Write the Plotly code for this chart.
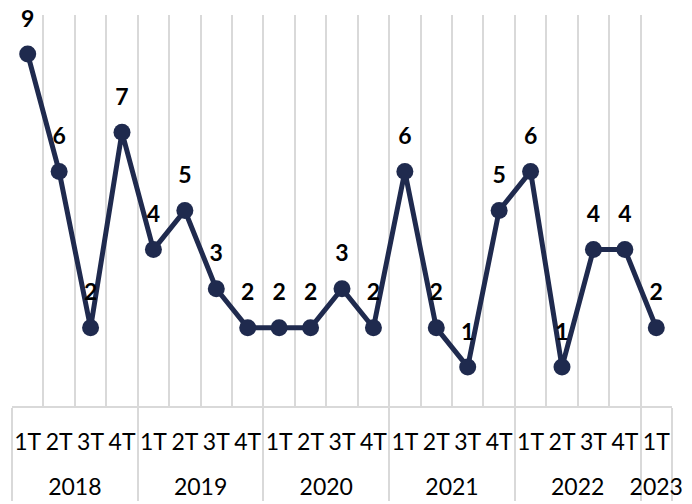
import plotly.graph_objects as go

years = ["2018"] * 4 + ["2019"] * 4 + ["2020"] * 4 + ["2021"] * 4 + ["2022"] * 4 + ["2023"]
quarters = ["1T", "2T", "3T", "4T"] * 5 + ["1T"]
values = [9, 6, 2, 7, 4, 5, 3, 2, 2, 2, 3, 2, 6, 2, 1, 5, 6, 1, 4, 4, 2]

navy = "#1F2A4E"
grid = "#D9D9D9"

# quarter labels get a trailing blank line so the year row sits lower, as in the reference
quarter_labels = [q + "<br> " for q in quarters]
x = [years, quarter_labels]

fig = go.Figure()
fig.add_trace(
    go.Scatter(
        x=x,
        y=values,
        mode="lines+markers",
        line=dict(color=navy, width=5),
        marker=dict(color=navy, size=17),
        hoverinfo="skip",
    )
)
# data labels: transparent larger markers push the text further above the points
fig.add_trace(
    go.Scatter(
        x=x,
        y=values,
        mode="markers+text",
        marker=dict(color="rgba(0,0,0,0)", size=33),
        text=[str(v) for v in values],
        textposition="top center",
        textfont=dict(family="Lato", size=23, color="black", weight="bold"),
        cliponaxis=False,
        hoverinfo="skip",
    )
)

fig.update_layout(
    width=684,
    height=496,
    margin=dict(l=4, r=20, t=7, b=98),
    paper_bgcolor="white",
    plot_bgcolor="white",
    showlegend=False,
    font=dict(family="Lato", size=23, color="black"),
)

fig.update_xaxes(
    type="multicategory",
    automargin=False,
    range=[-0.5, len(values) - 0.5],
    tickson="boundaries",
    showgrid=True,
    gridcolor=grid,
    gridwidth=1.5,
    showline=True,
    linecolor=grid,
    linewidth=1.5,
    ticks="",
    tickangle=0,
    ticklabelstandoff=15,
    dividercolor=grid,
    dividerwidth=1.5,
    tickfont=dict(family="Lato", size=23, color="black"),
)

fig.update_yaxes(
    automargin=False,
    range=[0, 10],
    showgrid=False,
    showticklabels=False,
    zeroline=False,
    showline=False,
)

fig.write_html("out.html")
